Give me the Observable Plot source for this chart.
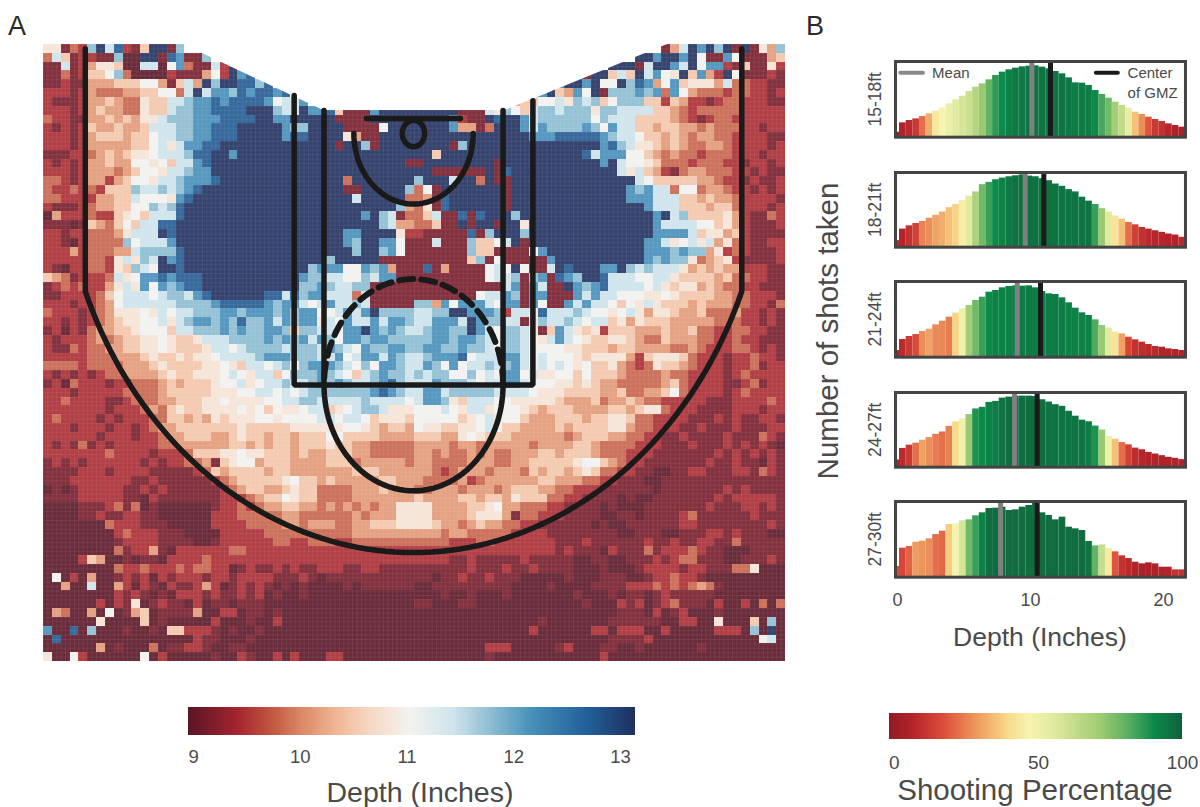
<!DOCTYPE html>
<html><head><meta charset="utf-8">
<script src="https://cdn.jsdelivr.net/npm/d3@7"></script>
<script src="https://cdn.jsdelivr.net/npm/@observablehq/plot@0.6"></script>
<style>
html,body{margin:0;padding:0;background:#fff;overflow:hidden}
#page{position:relative;width:1200px;height:807px;font-family:"Liberation Sans",Arial,sans-serif;color:#4a4a4a}
#page svg{position:absolute;background:transparent;overflow:visible}
.lab{position:absolute;white-space:nowrap;line-height:1}
</style></head><body><div id="page"></div>
<script>
// Heat-map levels, one character per cell; {n} repeats the preceding character, "." is no data.
const depthRowsLeft = [
"661329c8b215cc19.{26}","385122119 00cc1ba119.{23}","1181246650088 07a3 1182c.{20}","1131255793 0000 2111 472cab.{18}",
"11211 444555 77 41584 c9ccbb9b.{16}","22212 433344 55 77 38c8aa9bab bab.{14}","21112 445433 655 889 aa babbbba 788a.{12}",
"22212 454433 655 899 aa bbbbccc 988 c aab 5 111 a cccc","32211445454 66 899 9aa abbbbcc aa c cccc 1111 ccccc",
"21212544544 5888 99aa bbbcc ccc a99 cccc 1111 7ccc","22212455545 5788 99aa bbbcc ccc abb cccc 64 11 cccc",
"22212444445 57868 aa bbc c{12} 1 cc 9 1 cccc","11122345456 67888 9b bcc a c{20}","21212 44544 7767588 a bc c{20} c1",
"22212444345 77688 9aa c{23}","33212 44245 77688 9aaab c{14} 3 c{7}","32232 32555 98898 9ab c{16} 11 c{5} 9",
"33222 24455 87776 ab c{18} 8 c{5} 3","21112 34455 77989 b c{24} 94","04222 32256 75888 b c{20} a c 98 13",
"11101 54357 588bb c{23} 9 8 44","22122 33346 888cb c{19} aa cccc 62","22102 33339 7888a c c{18} a9 cc aa 71",
"22242 33344 89999 b c{18} c9 cc 9a 71","22222 33268 698ca b c{16} 9 c cccc 1111","21022 33265 987cc b c{14} 9aaa 77 a9a 4 11",
"54312 22386 7aaba bbb c{11} a99 88 77 98 aa 11","12323 22468 6a7a9 abb c{11} 99a 98 89 9 1{5}","11222 23578 88789 98ab c{6} bb8b 9aa888 38 1{5}",
"22212 23478 88888 9999 ab bb bba 9 aa 8 7 8 a 8 8 9 8 1 1111","32221 23466 67687 88999 aa9aa a9a9a a77 8a8ac9999",
"22121 23456 67786 89aa9 a9b99 a8a9a a 687a 88a8aa9","12021 34455 67775 88999 a9a99 aa959 9887a aca9a98",
"21222 34345 56676 55688 89999 a9a9a 8a97a a9aa999","21132 33445 56676 55568 87899 99899 98a987a99aa9",
"22222 33344 45655 65667 88889 aaa99 988a7 8aa8a98","33332 33334 44565 55566 76588 78979 aaa98 797aa98",
"21212 12334 44456 55666 78768 85799 9a987 589a998","12032 22122 33345 45556 77867 88988 9a9a9 889ab98",
"22212 22223 33345 55556 66778 87878 99999 99aba98","22322 22112 33344 55566 76666 77889 98888 8988887",
"22222 22122 23435 65566 66767 57667 88567 8998666","23222 21212 22335 54546 56667 76777 788788756665",
"22212 22122 12344 55555 55655 55566 666677654554","22222 21222 12234 45554 45655 45545 557755554444",
"21213 12122 22233 44444 45545 45545 556554433333","22222 22322 22122 23555 66766 55545 445554433333",
"12121 22222 21212 2334 1 5677 4 55544 445553444443","11112 22122 22111 11235 45555 45544 444445554444",
"11122 22222 11211 11112 34555 55675 545444445544","01012 22221 12121 11111 23455 44565 533334445444",
"11112 22221 10211 11111 22234 55765 533334444444","00001 11231 30100 00001 22323 44554 434343434466",
"00001 12112 21100 00002 22333 33443 333334344466","00000 00322 21110 00002 22233 33443 444334455566",
"00000 00023 22211 10000 22222 33333 333334444444","00000 00012 22211 11001 22222 23322 333223333333",
"00000 00031 22410 22222 23322 22222 222222222222","00002 54001 01102 22232 22222 22222 222222222222",
"00000 00032 23222 32332 20121 12121 122211221111","07020 40012 12021 22212 21222 21112 101111111111",
"00400 80042 02102 11242 01212 10101 000010111111","00000 00021 21010 22212 11212 01001 000000000000",
"00000 02021 60121 10201 10111 00000 000000000000","04300 40701 45011 11400 22011 01000 000000000000",
"00000 06000 05010 00002 00010 02000 000000000000","a00b0 90001 00105 52221 01001 00000 000000000000",
"0b000 00000 00000 00211 00010 00000 000000000000","00000 04010 00301 12210 01100 00000 000000000000",
"60072 00000 07020 00001 00210 02020 002200000000"];
const depthRowsRight = [
".{28}148cac9c1c1649",".{25}ccaccac711a711145",".{22}ccc18cca8c7aa2151162",".{19}1cc585c8a76c5a42c711121",
".{16}accac77c9ba47a566648332211",".{14}ac54a7c1 999a9a3a74 3332332212",".{10}44557786 98957999 55254221 23322211",
"ccccc11186 97589989 99699888 85543233 33322222","cccca211cb cca8999999 79888 55554 32123 3222222",
"cccca4413c cca8a9999a 97a88 55455 44343 3322122","c{13}a{3}b{4}ba98875545434433222211",
"cccc19c{15}ab9866545433443222212","cc5c{16}b8aaa775434332333222122","1c{8}1c{11}ac8776533323332212212",
"cc111111c1bc{12}8685421344333221211","9ccc8cc3c11c{14}87555554432212112","371c{7}1c{13}a9a883773443221212",
"341bc{6}1c{13}aaa888554544322221","361bc{6}1c{15}a888555455322212","35811b1bccc9c{15}ac8955556421132",
"33511c1cc1cc6c{14}a88887756421112","211111b19ccc9c{14}aaaa85664521111","1181119557 8c1 c{13} aa86786846321122",
"111111955 1111 7a c{11} aaa9a99 46 23 21112","111111 5917 11111 a c{10} a9a99 6 345 6 21111 2",
"1b14 1111 787c 7118 cbccc aac9 8988 8645 4544 22211","11111 11178 8919a 1ba9c cb888 77886 55554 533221 1",
"11111 11111 8a1a8 11ca9 ab888 87865 66454 3322111","11111 11788 a91aa 111a8 a8877 76676 55554 4332221",
"994a7 aaa87 aa1a7 11a8a 88757 68655 54544 4332213","8899c caaa9 2886b 88898 77678 64665 44533 3422121",
"88aaa 8ca99 88169 88987 88564 65554 44443 3322121","89aa9 9ca87 99861 5a865 62555 44454 45332 2332211",
"99aa9 aa987 99876 8a876 55665 43354 44332 2322111","9aa99 a9987 99877 77665 55455 44443 34322 2332121",
"89aaa b7888 aa878 77765 66664 25666 53222 1223221","8a97a 78898 9a878 78767 55643 23655 43222 1223122",
"98997 79787 aa786 67757 55543 33343 32222 1232222","88a99 98788 aa877 76656 54433 33345 32222 1123122",
"8aa89 99998 88876 66555 54453 34457 32222 1232222","8aa96 58887 76666 65444 53445 43322 22211 1222232",
"77787 68867 77654 55544 44554 56632 22111 1222122","77777 56786 77544 45554 55665 33222 21112 1211221",
"76655 66787 55444 45455 55664 33222 11211 1211122","55544 67655 54444 44345 55443 32211 21111 2111321",
"44443 44344 44434 44455 43333 22211 12111 2121210","44343 34343 34445 54555 43332 22111 11112 1212121",
"44333 34443 34455 55567 75432 21111 11121 1211021","44323 44434 44354 55456 53322 11001 12211 1221321",
"43333 42344 44445 54443 32211 10011 11111 1111111","33444 34443 45554 43322 21111 11011 11111 2121111",
"54444 55455 46555 33221 11101 00111 11112 1222221","66444 45567 44333 22111 10100 01111 11121 1122121",
"66444 45666 41332 22111 10011 01111 23111 1112111","66544 34544 33221 11111 01001 11111 22111 1111121",
"44434 43333 32222 11111 11100 11100 11122 1211100","33332 22332 22222 21112 11111 12112 11221 1311111",
"22222 22222 22222 21211 10211 13122 23211 0001111","22221 12111 11211 11100 11001 11212 33111 0011121",
"11111 12111 21121 11100 01000 12222 12211 1336000","11011 21121 11000 00100 01110 01223 22100 0000000",
"00111 11111 10000 10000 11112 22323 23431 0000000","00010 01000 10000 00010 00101 10121 11110 0000000",
"11000 11000 00000 00001 00021 20123 11102 0020303","00000 00000 00000 00000 00011 10201 20001 0000000",
"00000 00000 00001 00000 00111 11100 22006 0005090","00000 00000 00020 00000 22022 20020 00002 2209 0c0",
"00000 00000 00000 00000 00111 12000 00000 0000780","00000 00022 20000 01200 01100 10000 00100 0000000",
"00000 00010 00000 00000 02000 00000 00000 0000000"];
const levelCodes = ["0","1","2","3","4","5","6","7","8","9","a","b","c"];
const levelDepths = [8.95,9.12,9.45,9.8,10.12,10.48,10.8,11.05,11.45,11.8,12.2,12.75,13.14];

const depthStops = [8.95,9.41,9.72,10.03,10.35,10.66,11.03,11.43,11.75,12.16,12.69,13.14];
const depthColors = ["#5a1526","#a5242f","#c0553f","#dd8b68","#f0b898","#f6d8c4","#f3f3f0","#d0e4ec","#94c1d4","#4791ba","#215f99","#1f2f5e"];
const pctStops = [-2,6.6,17,29,39,47,57,71,80,90,100];
const pctColors = ["#8e1b26","#b5242a","#dc4e3b","#ee9c5f","#f8d987","#f7f4b0","#dbe79b","#a0cc72","#62b364","#0c8a4a","#10603a"];

const rangeLabels = ["15-18ft","18-21ft","21-24ft","24-27ft","27-30ft"];
const shots15 = [10,38,45,50,57,65,73,83,95,107,118,132,145,155,167,180,190,197,202,206,208,209,205,200,192,185,173,158,157,150,135,123,112,100,90,82,70,63,55,48,42,35,30,25];
const shots18 = [15,50,60,67,73,83,92,102,115,125,137,150,163,185,192,200,205,209,212,215,211,209,203,197,187,180,170,163,147,135,125,112,102,90,80,70,63,55,50,45,40,35,32,25];
const shots21 = [15,48,57,63,72,79,92,103,115,127,140,150,165,175,190,195,203,207,209,208,209,203,192,185,183,173,158,142,128,120,107,90,82,70,65,55,47,40,33,27,25,20,18,15];
const shots24 = [17,52,62,68,77,85,95,102,119,133,142,155,172,177,192,195,205,208,211,211,211,210,200,193,185,180,165,150,138,133,120,108,88,80,70,63,53,48,40,35,30,25,22,18];
const shots27 = [27,82,87,100,103,110,123,133,153,155,164,167,179,188,201,202,205,195,197,205,210,217,188,180,167,175,145,140,135,102,89,92,81,71,59,51,40,35,38,35,25,25,17,17];
const pct15 = [2,5,8,12,22,32,43,47,51,55,58,61,66,72,80,86,90,92,94,94,95,95,95,95,95,95,94,93,93,93,90,83,78,70,63,52,35,27,18,12,10,7,5,4];
const pct18 = [8,6,10,14,25,27,30,32,35,38,45,55,68,78,85,90,92,94,96,96,96,96,96,96,95,95,95,95,95,95,85,72,55,42,35,22,14,10,8,7,7,6,6,8];
const pct21 = [3,8,12,16,27,30,26,26,24,38,50,70,78,85,90,92,92,92,92,93,93,93,93,93,93,93,92,92,92,92,82,72,55,42,30,15,10,9,8,8,6,6,6,6];
const pct24 = [5,8,12,22,30,27,24,22,25,40,50,72,88,90,92,93,95,97,97,97,97,97,97,95,95,95,95,95,95,93,88,72,50,35,22,14,9,7,6,6,5,5,6,6];
const pct27 = [16,15,20,29,28,27,22,21,37,48,58,78,85,92,97,97,97,97,97,97,97,97,97,97,97,97,97,97,97,95,80,62,44,18,10,8,6,4,5,5,5,6,10,10];
const meanDepth = [10.1,9.6,9.0,8.8,7.75];
const centerGMZ = [11.5,11.0,10.75,10.5,10.5];
const depthTicks = [9,10,11,12,13];
const pctTicks = [0,50,100];
const histTicks = [0,10,20];

const page = document.getElementById("page");
const ink = "#1a1a1a", grey = "#4a4a4a";
const font = {fontFamily:'"Liberation Sans",Arial,sans-serif',color:grey,background:"transparent",overflow:"visible"};
function place(svg,left,top){svg.style.left=left+"px";svg.style.top=top+"px";page.appendChild(svg);}
function label(text,left,top,size,rot,color){
  const d=document.createElement("div");d.className="lab";d.textContent=text;
  d.style.left=left+"px";d.style.top=top+"px";d.style.fontSize=size+"px";
  if(color) d.style.color=color;
  d.style.transform="translate(-50%,-50%)"+(rot?" rotate(-90deg)":"");
  page.appendChild(d);
}
const depthColorScale = {type:"linear",domain:depthStops,range:depthColors,clamp:true};
const pctColorScale = {type:"linear",domain:pctStops,range:pctColors,clamp:true};

// ---- Panel A
const expand = s => s.replace(/ /g,"").replace(/(.)\{(\d+)\}/g,(m,a,n)=>a.repeat(+n));
const nCols=84,nRows=70,xMin=-24.8,xMax=24.93,yMin=-5.04,yMax=29.92;
const cw=(xMax-xMin)/nCols, ch=(yMax-yMin)/nRows;
const cells=[];
depthRowsLeft.forEach((l,r)=>{
  const row=expand(l).padEnd(42,"0").slice(0,42)+expand(depthRowsRight[r]).padEnd(42,"0").slice(0,42);
  [...row].forEach((code,c)=>{
    const i=levelCodes.indexOf(code);
    if(i>=0) cells.push({x1:xMin+c*cw,x2:xMin+(c+1)*cw,y1:yMin+r*ch,y2:yMin+(r+1)*ch,depth:levelDepths[i]});
  });
});
const maskX=[-15.41,-6.03,6.17,17.02], maskY=[-5.04,-1.3,-1.3,-5.04];
const mask=maskX.map((x,i)=>({x,y1:-5.04,y2:maskY[i]}));
const theta=d3.range(0,181,3).map(d=>d*Math.PI/180);
const ell=(cy,r,list)=>list.map(t=>[r*Math.cos(t),cy+r*Math.sin(t)]);
const tipY=Math.sqrt(23.75*23.75-22*22);
const arcT=d3.range(0,91,1).map(i=>{const a0=Math.atan2(tipY,22);return a0+(Math.PI-2*a0)*i/90;});
const threePoint=[[22,-4.8],...ell(0,23.75,arcT),[-22,-4.8]];
const box=[[-8,-2.15],[-8,14.25],[8,14.25],[8,-1.85]];
const laneL=[[-6,-1.3],[-6,14.25]], laneR=[[6,-1.3],[6,14.25]];
const ftLower=ell(14.25,6,theta);
const ftUpper=ell(14.25,6,theta.map(t=>-t));
const restricted=ell(0,4,theta);
const hoop=ell(0,.75,d3.range(0,361,10).map(d=>d*Math.PI/180));
const backboard=[[-3.15,-.85],[3.15,-.85]];
const solid=(pts,w=5.5)=>Plot.line(pts,{x:d=>d[0],y:d=>d[1],stroke:ink,strokeWidth:w,strokeLinejoin:"miter"});
place(Plot.plot({width:742,height:617,margin:0,style:font,
  x:{domain:[xMin,xMax],range:[0,742],axis:null},y:{domain:[yMin,yMax],range:[0,617],axis:null},color:depthColorScale,
  marks:[
    Plot.rect(cells,{x1:"x1",x2:"x2",y1:"y1",y2:"y2",fill:"depth",fillOpacity:.9,inset:0,shapeRendering:"crispEdges"}),
    Plot.ruleX(d3.range(0,2*nCols+1).map(i=>xMin+i*cw/2),{stroke:"#fff",strokeOpacity:.07,strokeWidth:1}),
    Plot.ruleY(d3.range(0,2*nRows+1).map(i=>yMin+i*ch/2),{stroke:"#fff",strokeOpacity:.07,strokeWidth:1}),
    Plot.areaY(mask,{x:"x",y1:"y1",y2:"y2",fill:"#fff"}),
    solid(threePoint),solid(box),solid(laneL),solid(laneR),solid(ftLower),
    Plot.line(ftUpper,{x:d=>d[0],y:d=>d[1],stroke:ink,strokeWidth:6,strokeDasharray:"14 8"}),
    solid(restricted),solid(hoop),solid(backboard)
  ]}),43,44);

// ---- Panel B
const shotSets=[shots15,shots18,shots21,shots24,shots27], pctSets=[pct15,pct18,pct21,pct24,pct27];
const panelTops=[61,172,281,392,501], panelHeights=[75.7,74.7,75.7,74.7,75.7];
shotSets.forEach((shots,p)=>{
  const bars=shots.map((h,i)=>({x1:i===0?0:.15+(i-1)*.5,x2:.15+i*.5,h,pct:pctSets[p][i]}));
  const last=p===4, marginTop=2;
  const marks=[
    Plot.rectY(bars,{x1:"x1",x2:"x2",y1:-5,y2:"h",fill:"pct",inset:0}),
    Plot.ruleX([meanDepth[p]],{y1:-5,y2:222,stroke:"#808080",strokeWidth:5}),
    Plot.ruleX([centerGMZ[p]],{y1:-5,y2:222,stroke:ink,strokeWidth:5}),
    Plot.frame({stroke:"#444",strokeWidth:3}),
    Plot.text([rangeLabels[p]],{frameAnchor:"left",textAnchor:"middle",rotate:-90,dx:-20,fontSize:17.5,fill:grey}),
    last?Plot.axisX({ticks:histTicks,tickFormat:d=>d,tickSize:0,tickPadding:16,fontSize:18,label:null,anchor:"bottom"}):null
  ];
  if(p===0) marks.push(
    Plot.ruleY([188],{x1:.25,x2:1.95,stroke:"#8a8a8a",strokeWidth:4,strokeLinecap:"round"}),
    Plot.ruleY([188],{x1:14.95,x2:16.6,stroke:ink,strokeWidth:4,strokeLinecap:"round"}),
    Plot.text(["Mean"],{x:2.6,y:186,textAnchor:"start",fontSize:15,fill:grey}),
    Plot.text(["Center"],{x:17.3,y:186,textAnchor:"start",fontSize:15,fill:grey}),
    Plot.text(["of GMZ"],{x:17.3,y:128,textAnchor:"start",fontSize:15,fill:grey})
  );
  place(Plot.plot({width:340,height:panelHeights[p]+marginTop+(last?30:2),
    marginLeft:35,marginRight:15,marginTop,marginBottom:last?30:2,style:font,
    x:{domain:[-.15,21.65],axis:null},y:{domain:[-5,222],axis:null},color:pctColorScale,marks}),860,panelTops[p]-marginTop);
});

// ---- Colour bars
const depthSteps=d3.range(8.953,13.14,.01);
place(Plot.plot({width:490,height:112,marginLeft:18,marginRight:25,marginTop:12,marginBottom:72,style:font,
  x:{domain:[8.953,13.14],axis:null},y:{axis:null},color:depthColorScale,
  marks:[Plot.rect(depthSteps,{x1:d=>d,x2:d=>Math.min(d+.012,13.14),fill:d=>d,shapeRendering:"crispEdges"}),
    Plot.axisX({ticks:depthTicks,tickFormat:d=>d,tickSize:0,tickPadding:14,fontSize:18.5,label:null,anchor:"bottom"})]}),170,695);
const pctSteps=d3.range(-1.7,100,.34);
place(Plot.plot({width:330,height:107,marginLeft:19,marginRight:18,marginTop:13,marginBottom:68,style:font,
  x:{domain:[-1.7,100],axis:null},y:{axis:null},color:pctColorScale,
  marks:[Plot.rect(pctSteps,{x1:d=>d,x2:d=>Math.min(d+.4,100),fill:d=>d,shapeRendering:"crispEdges"}),
    Plot.axisX({ticks:pctTicks,tickFormat:d=>d,tickSize:0,tickPadding:16,fontSize:19,label:null,anchor:"bottom"})]}),870,700);

// ---- Titles
label("A",17,26,27,false,"#2a2a2a");label("B",815,26,27,false,"#2a2a2a");
label("Number of shots taken",828,331,29.5,true);
label("Depth (Inches)",1040,637,26.5);
label("Depth (Inches)",420,792,28.5);
label("Shooting Percentage",1035,790,29.5);
</script></body></html>
